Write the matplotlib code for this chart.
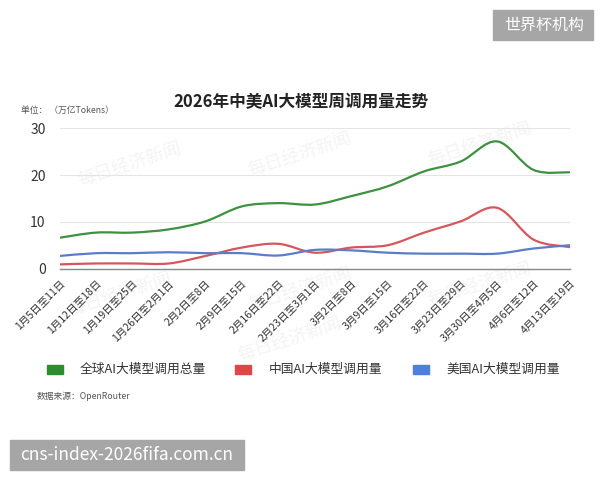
import matplotlib
matplotlib.use("Agg")
import matplotlib.pyplot as plt
import numpy as np
from matplotlib.path import Path
from matplotlib.patches import PathPatch, Rectangle

plt.rcParams['font.family'] = ['Noto Sans CJK SC', 'DejaVu Sans']

weeks = ['1月5日至11日', '1月12日至18日', '1月19日至25日', '1月26日至2月1日',
         '2月2日至8日', '2月9日至15日', '2月16日至22日', '2月23日至3月1日',
         '3月2日至8日', '3月9日至15日', '3月16日至22日', '3月23日至29日',
         '3月30日至4月5日', '4月6日至12日', '4月13日至19日']
global_total = [6.6, 7.7, 7.7, 8.4, 10.1, 13.3, 14.0, 13.7, 15.5, 17.6, 20.8, 22.9, 27.2, 21.1, 20.6]
china = [0.9, 1.1, 1.1, 1.1, 2.7, 4.5, 5.3, 3.4, 4.5, 5.0, 7.7, 10.1, 13.0, 6.2, 4.6]
usa = [2.7, 3.3, 3.3, 3.5, 3.3, 3.3, 2.8, 4.0, 3.9, 3.4, 3.2, 3.2, 3.2, 4.3, 5.0]

series_names = ['全球AI大模型调用总量', '中国AI大模型调用量', '美国AI大模型调用量']
line_colors = ['#3d9140', '#d6575b', '#5b7dc8']
legend_colors = ['#2e8b2e', '#e04646', '#4d7fe0']


def smooth_path(xs, ys):
    # catmull-rom -> bezier segments
    pts = np.column_stack([xs, ys]).astype(float)
    n = len(pts)
    verts = [pts[0]]
    codes = [Path.MOVETO]
    for i in range(n - 1):
        p0 = pts[max(i - 1, 0)]
        p1 = pts[i]
        p2 = pts[i + 1]
        p3 = pts[min(i + 2, n - 1)]
        c1 = p1 + (p2 - p0) / 6.0
        c2 = p2 - (p3 - p1) / 6.0
        verts += [c1, c2, p2]
        codes += [Path.CURVE4] * 3
    return Path(verts, codes)


fig = plt.figure(figsize=(6, 4.8), dpi=100)

# faint watermarks (behind everything)
for wx, wy in [(130, 165), (300, 155), (480, 145), (120, 295), (300, 290), (480, 285), (290, 340)]:
    fig.text(wx / 600, 1 - wy / 480, '每日经济新闻', ha='center', va='center', fontsize=13,
             rotation=18, color='#f4f4f4', zorder=-5)

ax = fig.add_axes([0.0993, 0.4404, 0.8507, 0.2923])
ax.set_zorder(2)
ax.patch.set_alpha(0)

x = np.arange(len(weeks))
for ys, c in zip([global_total, china, usa], line_colors):
    ax.add_patch(PathPatch(smooth_path(x, ys), fill=False, edgecolor=c, lw=1.6,
                           capstyle='round', joinstyle='round', zorder=3))

ax.set_xlim(0, len(weeks) - 1)
ax.set_ylim(0, 30)
ax.set_yticks([0, 10, 20, 30])
ax.set_xticks(x)
ax.set_xticklabels(weeks, rotation=45, ha='right', va='top', rotation_mode='anchor',
                   fontsize=7.6, color='#333333')
ax.tick_params(axis='y', length=0, labelsize=10, labelcolor='#333333', pad=10)
ax.tick_params(axis='x', length=0, pad=7)
ax.grid(axis='y', color='#e4e4e4', lw=0.8)
ax.set_axisbelow(True)
for s in ['top', 'right', 'left']:
    ax.spines[s].set_visible(False)
ax.spines['bottom'].set_color('#888888')
ax.spines['bottom'].set_linewidth(1.0)

fig.text(0.502, 0.7875, '2026年中美AI大模型周调用量走势', ha='center', va='center',
         fontsize=12, fontweight='bold', color='#222222')
fig.text(0.035, 0.769, '单位： （万亿Tokens）', ha='left', va='center', fontsize=6.3, color='#555555')

# legend
leg_x = [47, 235, 413]
txt_x = [80, 269, 446]
for lx, tx, name, c in zip(leg_x, txt_x, series_names, legend_colors):
    fig.patches.append(Rectangle((lx / 600, 1 - 374 / 480), 16 / 600, 9 / 480,
                                 transform=fig.transFigure, color=c, figure=fig))
    fig.text(tx / 600, 1 - 369 / 480, name, ha='left', va='center', fontsize=9.2, color='#333333')

fig.text(37 / 600, 1 - 396 / 480, '数据来源：OpenRouter', ha='left', va='center',
         fontsize=6.3, color='#555555')

# corner tags
fig.patches.append(Rectangle((493 / 600, 1 - 40 / 480), 100 / 600, 30 / 480,
                             transform=fig.transFigure, color='#a6a6a6', figure=fig))
fig.text(544 / 600, 1 - 25 / 480, '世界杯机构', ha='center', va='center', fontsize=11.5, color='white')
fig.patches.append(Rectangle((10 / 600, 1 - 470 / 480), 234 / 600, 30 / 480,
                             transform=fig.transFigure, color='#a6a6a6', figure=fig))
fig.text(127 / 600, 1 - 455 / 480, 'cns-index-2026fifa.com.cn', ha='center', va='center',
         fontsize=12.5, color='white')

fig.savefig('out.png', dpi=100)
